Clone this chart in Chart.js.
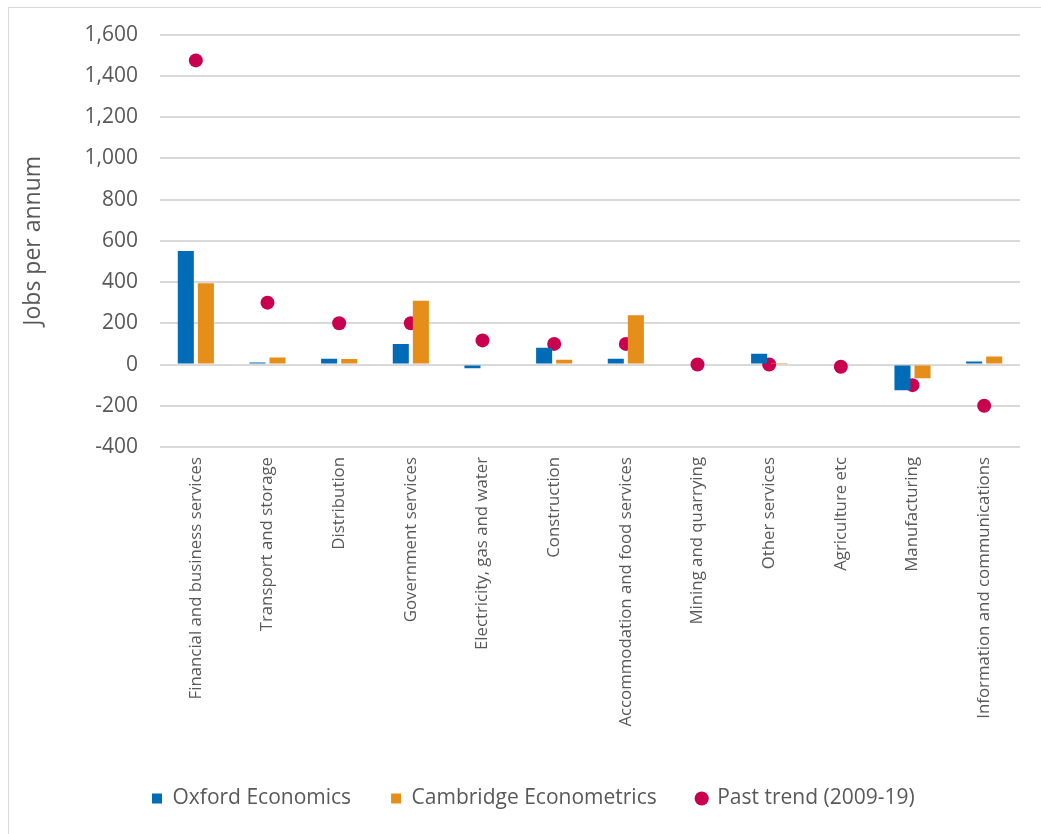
<!DOCTYPE html>
<html><head><meta charset="utf-8">
<script src="https://cdn.jsdelivr.net/npm/chart.js@4.4.0/dist/chart.umd.min.js"></script>
<style>
html,body{margin:0;padding:0;background:#fff;}
#frame{position:absolute;left:8px;top:7px;width:1040px;height:830px;border:1px solid #d9d9d9;box-sizing:border-box;}
#wrap{position:absolute;left:0;top:0;width:1041px;height:834px;}
</style></head>
<body>
<div id="frame"></div>
<div id="wrap"><canvas id="c" width="1041" height="834"></canvas></div>
<script>
const categories = ["Financial and business services","Transport and storage","Distribution","Government services","Electricity, gas and water","Construction","Accommodation and food services","Mining and quarrying","Other services","Agriculture etc","Manufacturing","Information and communications"];
const oxford = [551, 10, 28, 99, -18, 81, 28, 0, 52, 0, -125, 15];
const cambridge = [394, 34, 27, 309, 0, 23, 239, 0, 3, 0, -67, 39];
const pastTrend = [1475, 300, 200, 200, 117, 100, 100, 0, 0, -11, -100, -200];
const yTicks = [-400, -200, 0, 200, 400, 600, 800, 1000, 1200, 1400, 1600];

const textColor = '#595959';
const fontFamily = '"Open Sans", Lato, sans-serif';
const legendStart = 152;
const legendPad = 40;

new Chart(document.getElementById('c'), {
  type: 'bar',
  data: {
    labels: categories,
    datasets: [
      {label: 'Oxford Economics', data: oxford, backgroundColor: '#006BB6', pointStyle: 'rect',
       categoryPercentage: 0.56, barPercentage: 0.8},
      {label: 'Cambridge Econometrics', data: cambridge, backgroundColor: '#E58E1A', pointStyle: 'rect',
       categoryPercentage: 0.56, barPercentage: 0.8},
      {label: 'Past trend (2009-19)', type: 'line', data: pastTrend, showLine: false, backgroundColor: '#C8004F', borderColor: '#C8004F',
       pointRadius: 7, pointHoverRadius: 7, pointBorderWidth: 0, pointStyle: 'circle'}
    ]
  },
  options: {
    responsive: false,
    animation: false,
    layout: {padding: {left: 20, right: 21, top: 34, bottom: 15}},
    plugins: {
      legend: {
        position: 'bottom',
        align: 'start',
        labels: {usePointStyle: true, boxWidth: 10, boxHeight: 10, padding: legendPad, color: textColor,
                 font: {family: fontFamily, size: 21}}
      },
      tooltip: {enabled: false}
    },
    scales: {
      x: {
        grid: {display: false},
        border: {display: false},
        ticks: {color: textColor, font: {family: fontFamily, size: 16.8}, maxRotation: 90, minRotation: 90, autoSkip: false, padding: 2},
        afterFit: (s) => { s.height = 301; }
      },
      y: {
        min: -400, max: 1600,
        afterBuildTicks: (s) => { s.ticks = yTicks.map(v => ({value: v})); },
        grid: {color: '#d9d9d9', lineWidth: 2, drawTicks: false},
        border: {display: false},
        ticks: {color: textColor, font: {family: fontFamily, size: 21}, padding: 22,
                callback: (v) => v.toLocaleString('en-US')},
        title: {display: true, text: 'Jobs per annum', color: textColor, font: {family: fontFamily, size: 23}, padding: {top: 0, bottom: 10}},
        afterFit: (s) => { s.width = 140; }
      }
    }
  },
  plugins: [{
    id: 'legendShift',
    afterLayout(chart) {
      const lg = chart.legend;
      lg.left = legendStart - legendPad;
      lg.right = 1041;
    }
  }]
});
</script>
</body></html>
